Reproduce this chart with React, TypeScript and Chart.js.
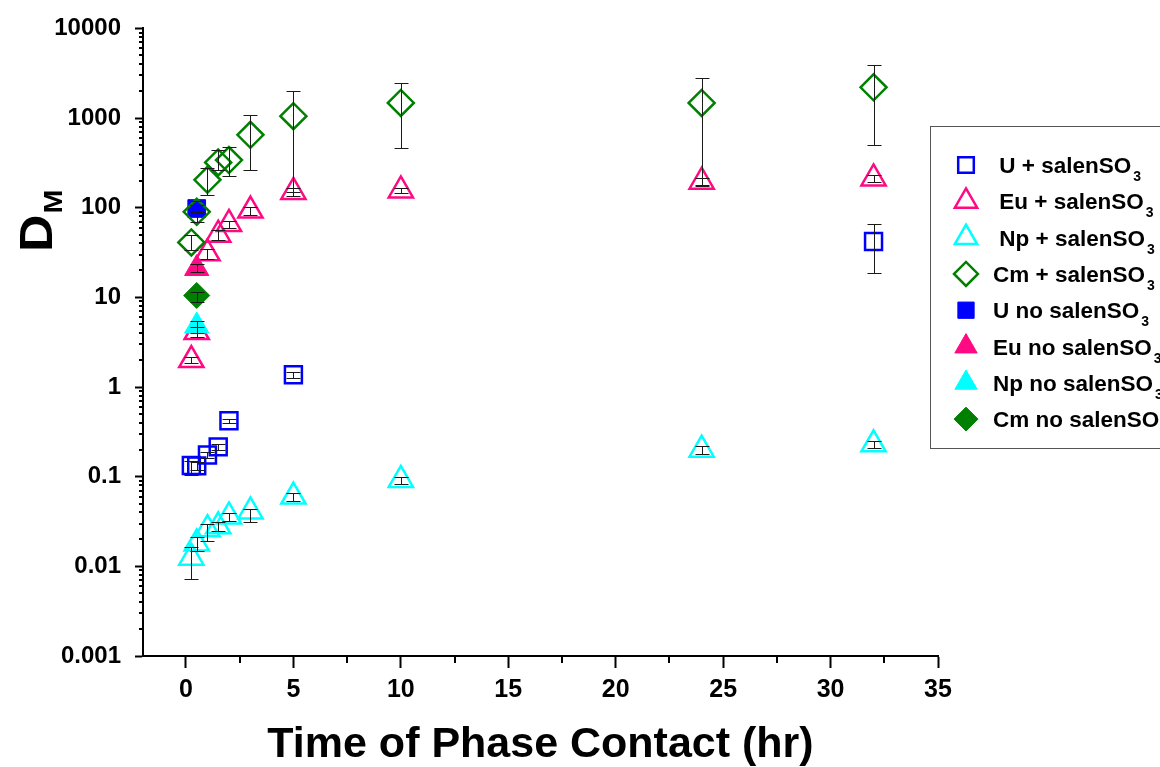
import React, { useEffect, useRef } from 'react';
import { Chart, registerables } from 'chart.js';
import { drawPoint } from 'chart.js/helpers';

Chart.register(...registerables);

const FONT = '"Liberation Sans", Arial, Helvetica, sans-serif';

// ---- Data ----
const U_SAL_X = [0.25, 0.5, 1, 1.5, 2, 5, 32];
const U_SAL_Y = [0.133, 0.132, 0.175, 0.215, 0.42, 1.37, 42];
const U_SAL_LO = [0.105, 0.12, 0.162, 0.2, 0.395, 1.27, 18.5];
const U_SAL_HI = [0.15, 0.144, 0.188, 0.23, 0.445, 1.47, 66];

const EU_SAL_X = [0.25, 0.5, 1, 1.5, 2, 3, 5, 10, 24, 32];
const EU_SAL_Y = [2.0, 4.1, 31, 50, 66, 93, 150, 156, 195, 212];
const EU_SAL_LO = [1.85, 3.6, 27, 44, 60, 84, 136, 145, 178, 196];
const EU_SAL_HI = [2.15, 4.7, 35, 56, 72, 102, 165, 168, 212, 230];

const NP_SAL_X = [0.25, 0.5, 1, 1.5, 2, 3, 5, 10, 24, 32];
const NP_SAL_Y = [0.0125, 0.018, 0.026, 0.028, 0.036, 0.041, 0.06, 0.092, 0.2, 0.23];
const NP_SAL_LO = [0.0072, 0.015, 0.019, 0.025, 0.032, 0.031, 0.053, 0.083, 0.18, 0.21];
const NP_SAL_HI = [0.0165, 0.021, 0.03, 0.031, 0.039, 0.044, 0.066, 0.1, 0.22, 0.25];

const CM_SAL_X = [0.25, 0.5, 1, 1.5, 2, 3, 5, 10, 24, 32];
const CM_SAL_Y = [41, 90, 205, 320, 340, 650, 1050, 1475, 1475, 2200];
const CM_SAL_LO = [34, 70, 139, 263, 227, 263, 150, 466, 175, 495];
const CM_SAL_HI = [50, 120, 277, 438, 470, 1075, 2000, 2490, 2830, 3900];

const U_NO_X = [0.5];
const U_NO_Y = [98];
const U_NO_LO = [90];
const U_NO_HI = [106];

const EU_NO_X = [0.5];
const EU_NO_Y = [21];
const EU_NO_LO = [19];
const EU_NO_HI = [23.5];

const NP_NO_X = [0.5];
const NP_NO_Y = [4.8];
const NP_NO_LO = [3.96];
const NP_NO_HI = [5.5];

const CM_NO_X = [0.5];
const CM_NO_Y = [10.5];
const CM_NO_LO = [8.9];
const CM_NO_HI = [11.6];

const LEGEND_LABELS = [
  ' U + salenSO',
  ' Eu + salenSO',
  ' Np + salenSO',
  'Cm + salenSO',
  'U no salenSO',
  'Eu no salenSO',
  'Np no salenSO',
  'Cm no salenSO',
];
const LEGEND_SUB = ['3', '3', '3', '3', '3', '3', '3', '3'];

const Y_MAJOR = [0.001, 0.01, 0.1, 1, 10, 100, 1000, 10000];
const Y_LABELS = ['0.001', '0.01', '0.1', '1', '10', '100', '1000', '10000'];
const Y_MINOR_MULT = [2, 3, 4, 5, 6, 7, 8, 9];
const X_MAJOR = [0, 5, 10, 15, 20, 25, 30, 35];
const X_LABELS = ['0', '5', '10', '15', '20', '25', '30', '35'];
const X_MINOR = [2.5, 7.5, 12.5, 17.5, 22.5, 27.5, 32.5];

const BLUE = '#0000FF';
const PINK = '#FF0A82';
const CYAN = '#00FFFF';
const GREEN = '#008000';

type Series = {
  label: string;
  x: number[];
  y: number[];
  lo: number[];
  hi: number[];
  style: string;
  color: string;
  filled: boolean;
  radius: number;
  order: number;
};

const SERIES: Series[] = [
  { label: LEGEND_LABELS[0], x: U_SAL_X, y: U_SAL_Y, lo: U_SAL_LO, hi: U_SAL_HI, style: 'rect', color: BLUE, filled: false, radius: 12, order: 8 },
  { label: LEGEND_LABELS[1], x: EU_SAL_X, y: EU_SAL_Y, lo: EU_SAL_LO, hi: EU_SAL_HI, style: 'triangle', color: PINK, filled: false, radius: 14, order: 7 },
  { label: LEGEND_LABELS[2], x: NP_SAL_X, y: NP_SAL_Y, lo: NP_SAL_LO, hi: NP_SAL_HI, style: 'triangle', color: CYAN, filled: false, radius: 14, order: 6 },
  { label: LEGEND_LABELS[3], x: CM_SAL_X, y: CM_SAL_Y, lo: CM_SAL_LO, hi: CM_SAL_HI, style: 'rectRot', color: GREEN, filled: false, radius: 13, order: 4 },
  { label: LEGEND_LABELS[4], x: U_NO_X, y: U_NO_Y, lo: U_NO_LO, hi: U_NO_HI, style: 'rect', color: BLUE, filled: true, radius: 12.5, order: 5 },
  { label: LEGEND_LABELS[5], x: EU_NO_X, y: EU_NO_Y, lo: EU_NO_LO, hi: EU_NO_HI, style: 'triangle', color: PINK, filled: true, radius: 14, order: 3 },
  { label: LEGEND_LABELS[6], x: NP_NO_X, y: NP_NO_Y, lo: NP_NO_LO, hi: NP_NO_HI, style: 'triangle', color: CYAN, filled: true, radius: 14, order: 2 },
  { label: LEGEND_LABELS[7], x: CM_NO_X, y: CM_NO_Y, lo: CM_NO_LO, hi: CM_NO_HI, style: 'rectRot', color: GREEN, filled: true, radius: 13, order: 1 },
];

const overlayPlugin = {
  id: 'overlay',
  afterDatasetsDraw(chart: any) {
    const ctx: CanvasRenderingContext2D = chart.ctx;
    const xs = chart.scales.x;
    const ys = chart.scales.y;
    ctx.save();
    ctx.strokeStyle = '#1a1a1a';
    ctx.lineWidth = 1;
    SERIES.forEach((s) => {
      s.x.forEach((xv, j) => {
        const px = Math.round(xs.getPixelForValue(xv)) + 0.5;
        const plo = Math.round(ys.getPixelForValue(s.lo[j])) + 0.5;
        const phi = Math.round(ys.getPixelForValue(s.hi[j])) + 0.5;
        ctx.beginPath();
        ctx.moveTo(px, plo);
        ctx.lineTo(px, phi);
        ctx.moveTo(px - 7, plo);
        ctx.lineTo(px + 7, plo);
        ctx.moveTo(px - 7, phi);
        ctx.lineTo(px + 7, phi);
        ctx.stroke();
      });
    });
    ctx.restore();
  },
  afterDraw(chart: any) {
    const ctx: CanvasRenderingContext2D = chart.ctx;
    const xs = chart.scales.x;
    const ys = chart.scales.y;
    const area = chart.chartArea;
    ctx.save();
    // minor ticks
    ctx.strokeStyle = '#000';
    ctx.lineWidth = 2;
    ctx.beginPath();
    X_MINOR.forEach((v) => {
      const px = Math.round(xs.getPixelForValue(v));
      ctx.moveTo(px, area.bottom);
      ctx.lineTo(px, area.bottom + 7);
    });
    Y_MAJOR.slice(0, -1).forEach((d) => {
      Y_MINOR_MULT.forEach((m) => {
        const py = Math.round(ys.getPixelForValue(d * m));
        ctx.moveTo(area.left, py);
        ctx.lineTo(area.left - 4, py);
      });
    });
    ctx.stroke();

    // Y axis title D_M (rotated)
    ctx.fillStyle = '#000';
    ctx.translate(52, 252);
    ctx.rotate(-Math.PI / 2);
    ctx.scale(1.1, 1);
    ctx.textBaseline = 'alphabetic';
    ctx.textAlign = 'left';
    ctx.font = `bold 47px ${FONT}`;
    ctx.fillText('D', 0, 0);
    const dw = ctx.measureText('D').width;
    ctx.font = `bold 26px ${FONT}`;
    ctx.fillText('M', dw + 1, 10);
    ctx.setTransform(1, 0, 0, 1, 0, 0);

    // Legend
    const boxL = 930.5;
    const boxT = 126.5;
    ctx.strokeStyle = '#555';
    ctx.lineWidth = 1;
    ctx.strokeRect(boxL, boxT, 300, 322);
    const rowY0 = 165;
    const rowStep = 36.3;
    SERIES.forEach((s, i) => {
      const y = rowY0 + i * rowStep;
      ctx.save();
      ctx.strokeStyle = s.color;
      ctx.fillStyle = s.filled ? s.color : 'rgba(0,0,0,0)';
      ctx.lineWidth = s.filled ? 1 : 2.5;
      drawPoint(ctx, { pointStyle: s.style, rotation: 0, radius: s.radius * 0.92, borderWidth: s.filled ? 1 : 2.5 } as any, 966, y);
      ctx.restore();
      ctx.fillStyle = '#000';
      ctx.textBaseline = 'alphabetic';
      ctx.textAlign = 'left';
      ctx.font = `bold 22.5px ${FONT}`;
      const tx = 993;
      const base = y + 8;
      ctx.fillText(s.label, tx, base);
      const w = ctx.measureText(s.label).width;
      ctx.font = `bold 14px ${FONT}`;
      ctx.fillText(LEGEND_SUB[i], tx + w + 2, base + 8);
    });
    ctx.restore();
  },
};

export default function App() {
  const ref = useRef<HTMLCanvasElement | null>(null);
  useEffect(() => {
    if (!ref.current) return;
    const datasets = SERIES.map((s) => ({
      label: s.label,
      data: s.x.map((xv, i) => ({ x: xv, y: s.y[i] })),
      showLine: false,
      pointStyle: s.style,
      pointRadius: s.radius,
      pointHoverRadius: s.radius,
      pointBorderWidth: s.filled ? 1 : 2.5,
      pointBorderColor: s.color,
      pointBackgroundColor: s.filled ? s.color : 'rgba(0,0,0,0)',
      order: s.order,
    }));
    const chart = new Chart(ref.current, {
      type: 'scatter',
      data: { datasets },
      plugins: [overlayPlugin],
      options: {
        animation: false,
        responsive: false,
        devicePixelRatio: 1,
        layout: { padding: { left: 0, top: 27, right: 222, bottom: 0 } },
        plugins: { legend: { display: false }, tooltip: { enabled: false } },
        scales: {
          x: {
            type: 'linear',
            min: -2,
            max: 35,
            afterBuildTicks: (scale: any) => {
              scale.ticks = X_MAJOR.map((v) => ({ value: v }));
            },
            afterFit: (scale: any) => {
              scale.height = 111;
            },
            ticks: {
              autoSkip: false,
              maxRotation: 0,
              padding: 7,
              color: '#000',
              font: { family: FONT, size: 25, weight: 'bold' },
              callback: (v: any) => {
                const i = X_MAJOR.indexOf(Number(v));
                return i >= 0 ? X_LABELS[i] : '';
              },
            },
            grid: { drawOnChartArea: false, drawTicks: true, tickLength: 12, tickColor: '#000', tickWidth: 2 },
            border: { display: true, color: '#000', width: 2 },
            title: {
              display: true,
              text: 'Time of Phase Contact (hr)',
              color: '#000',
              font: { family: FONT, size: 43, weight: 'bold', lineHeight: 1 },
              padding: { top: 0, bottom: 0 },
            },
          },
          y: {
            type: 'logarithmic',
            min: 0.001,
            max: 10000,
            afterBuildTicks: (scale: any) => {
              scale.ticks = Y_MAJOR.map((v) => ({ value: v, major: true }));
            },
            afterFit: (scale: any) => {
              scale.width = 143;
            },
            ticks: {
              autoSkip: false,
              padding: 14,
              color: '#000',
              font: { family: FONT, size: 24, weight: 'bold' },
              callback: (v: any) => {
                const i = Y_MAJOR.findIndex((m) => Math.abs(m - Number(v)) / m < 1e-6);
                return i >= 0 ? Y_LABELS[i] : '';
              },
            },
            grid: { drawOnChartArea: false, drawTicks: true, tickLength: 8, tickColor: '#000', tickWidth: 2 },
            border: { display: true, color: '#000', width: 2 },
          },
        },
      } as any,
    });
    return () => chart.destroy();
  }, []);
  return (
    <div style={{ position: 'absolute', left: 0, top: 0, width: 1160, height: 767, background: '#fff' }}>
      <canvas ref={ref} width={1160} height={767} style={{ display: 'block' }} />
    </div>
  );
}
